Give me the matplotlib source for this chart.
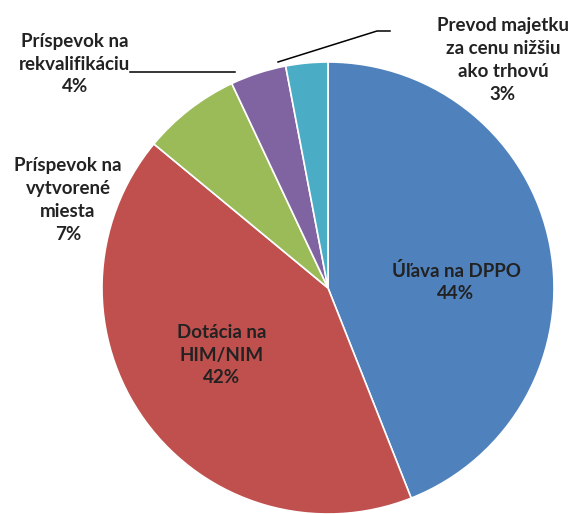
import matplotlib
matplotlib.use("Agg")
import matplotlib.pyplot as plt

categories = ["Úľava na DPPO", "Dotácia na\nHIM/NIM", "Príspevok na\nvytvorené\nmiesta",
              "Príspevok na\nrekvalifikáciu", "Prevod majetku\nza cenu nižšiu\nako trhovú"]
values = [44, 42, 7, 4, 3]
colors = ["#4F81BD", "#C0504D", "#9BBB59", "#8064A2", "#4BACC6"]

W, H = 579, 514
fig = plt.figure(figsize=(W / 100, H / 100), dpi=100)
ax = fig.add_axes([0, 0, 1, 1])

cx, cy, r = 328, H - 288, 226
wedges, _ = ax.pie(values, colors=colors, startangle=90, counterclock=False,
                   center=(cx, cy), radius=r, frame=True,
                   wedgeprops=dict(edgecolor="white", linewidth=1.2))
ax.set_xlim(0, W)
ax.set_ylim(0, H)
ax.set_aspect("equal")
ax.axis("off")

font = dict(family="Lato", fontweight="bold", fontsize=13.5, color="#222222",
            ha="center", va="center", linespacing=1.42)

labels_pos = [(456, 282), (222, 355), (68, 200), (75, 64), (503, 60)]
for name, v, (x, y) in zip(categories, values, labels_pos):
    ax.text(x, H - y, f"{name}\n{v}%", **font)

# leader lines
ax.plot([130, 235], [H - 72, H - 72], color="black", lw=1.1)
ax.plot([278, 377, 390], [H - 62, H - 31, H - 31], color="black", lw=1.1)

fig.savefig("out.png", dpi=100)
